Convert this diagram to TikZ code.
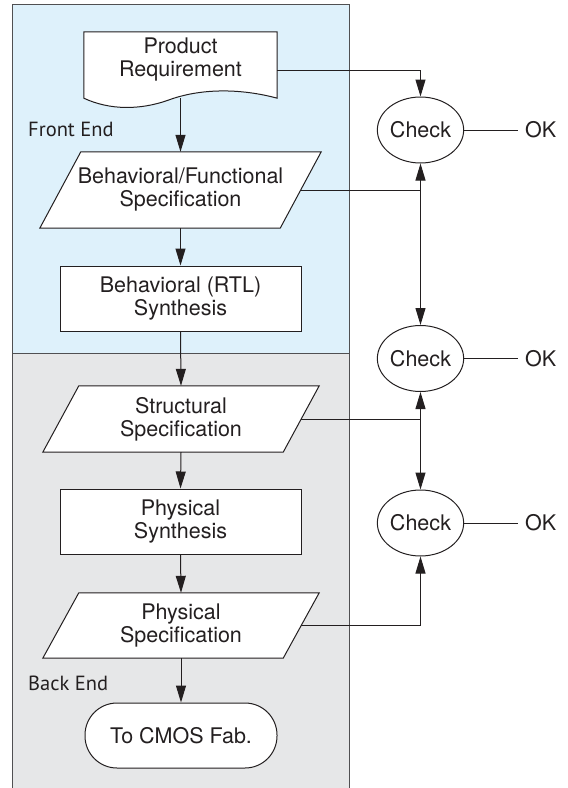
\documentclass[tikz,border=0pt]{standalone}
\usepackage{fontspec}
\setmainfont{TeX Gyre Heros}
\newfontfamily\sidefont{PT Sans}
\usetikzlibrary{arrows.meta,calc,shapes.geometric}
\pgfdeclarelayer{panel}
\pgfdeclarelayer{shapes}
\pgfsetlayers{panel,shapes,main}
\definecolor{fecol}{RGB}{222,241,251}
\definecolor{becol}{RGB}{230,231,232}
\definecolor{ink}{RGB}{35,31,32}
\definecolor{framecol}{RGB}{80,80,82}
\begin{document}
\begin{tikzpicture}[x=1pt,y=-1pt,
  every node/.style={font=\fontsize{21.5}{23}\selectfont, text=ink},
  conn/.style={draw=ink, line width=1pt},
  arr/.style={conn, -{Triangle[length=17pt,width=10pt]}},
  outline/.style={draw=ink, line width=1pt, fill=white},
  holder/.style={rectangle, draw=none, inner sep=0pt, align=center, minimum width=#1},
  procbox/.style={rectangle, outline, inner sep=0pt, align=center, minimum width=241pt, minimum height=65pt},
  endbox/.style={rectangle, outline, rounded corners=32pt, inner sep=0pt, align=center, minimum width=192pt, minimum height=65pt},
  checknode/.style={ellipse, outline, inner sep=0pt, minimum width=72pt, minimum height=66pt},
  oklabel/.style={anchor=west, inner sep=0pt, inner xsep=7pt},
  sidelabel/.style={anchor=west, inner sep=0pt, font=\sidefont\fontsize{20.5}{22}\selectfont},
  panelline/.style={draw=framecol, line width=1pt}
]
\useasboundingbox (0,0) rectangle (568,788);

% panels
\begin{pgfonlayer}{panel}
  \fill[fecol] (12,4) rectangle (349,353);
  \fill[becol] (12,353) rectangle (349,788);
  \draw[panelline] (12,788) -- (12,4) -- (349,4) -- (349,788);
  \draw[panelline] (12,353) -- (349,353);
\end{pgfonlayer}

% nodes
\node[holder=193pt, minimum height=66pt] (doc) at (180.5,65) {};
\node[align=center, inner sep=0pt] (doctext) at (180.5,60) {Product\\Requirement};
\node[holder=240pt, minimum height=76pt] (p1) at (180.5,190) {Behavioral/Functional\\Specification};
\node[procbox] (rtl) at (180.5,298.5) {Behavioral (RTL)\\Synthesis};
\node[holder=240pt, minimum height=66pt] (p2) at (181,419) {Structural\\Specification};
\node[procbox] (phs) at (180.5,521.5) {Physical\\Synthesis};
\node[holder=240pt, minimum height=65pt] (p3) at (181,625.5) {Physical\\Specification};
\node[endbox] (fab) at (181,735.5) {To CMOS Fab.};

\node[sidelabel] (fe) at (28,129) {Front End};
\node[sidelabel] (be) at (28,683) {Back End};

\node[checknode] (c1) at (420.5,130) {Check};
\node[checknode] (c2) at (420.5,358.5) {Check};
\node[checknode] (c3) at (420.5,523) {Check};
\node[oklabel] (ok1) at (518,130) {OK};
\node[oklabel] (ok2) at (518,358.5) {OK};
\node[oklabel] (ok3) at (518,523) {OK};

% shape outlines
\begin{pgfonlayer}{shapes}
  \draw[outline] (doc.south west) -- (doc.north west) -- (doc.north east) -- (doc.south east)
    .. controls ($(doc.south east)+(-37,-10)$) and ($(doc.south east)+(-77,-10)$) .. ($(doc.south east)+(-109,2)$)
    .. controls ($(doc.south west)+(56,12)$) and ($(doc.south west)+(26,12)$) .. (doc.south west) -- cycle;
  \foreach \n/\s in {p1/41,p2/36,p3/36}
    \draw[outline] ($(\n.north west)+(\s/2,0)$) -- ($(\n.north east)+(\s/2,0)$)
      -- ($(\n.south east)-(\s/2,0)$) -- ($(\n.south west)-(\s/2,0)$) -- cycle;
\end{pgfonlayer}

% main flow
\draw[arr] (doc.south) -- (p1.north);
\draw[arr] (p1.south) -- (rtl.north);
\draw[arr] (rtl.south) -- (p2.north);
\draw[arr] (p2.south) -- (phs.north);
\draw[arr] (phs.south) -- (p3.north);
\draw[arr] (p3.south) -- (fab.north);

% checks
\coordinate (j1) at (p1.east -| c1);
\coordinate (j2) at (p2.east -| c2);
\draw[arr] ([yshift=-5pt]doc.east) -| (c1.north);
\draw[conn] (p1.east) -- (j1);
\draw[arr] (j1) -- (c1.south);
\draw[arr] (j1) -- (c2.north);
\draw[conn] (p2.east) -- (j2);
\draw[arr] (j2) -- (c2.south);
\draw[arr] (j2) -- (c3.north);
\draw[arr] (p3.east) -| (c3.south);

\draw[conn] (c1.east) -- (ok1.west);
\draw[conn] (c2.east) -- (ok2.west);
\draw[conn] (c3.east) -- (ok3.west);
\end{tikzpicture}
\end{document}
